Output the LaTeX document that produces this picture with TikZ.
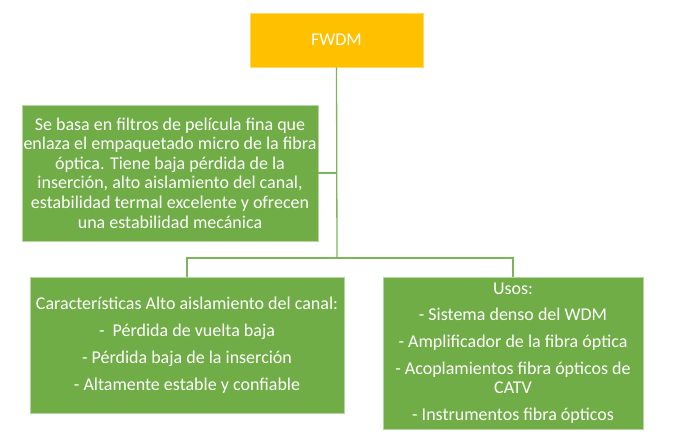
\documentclass[tikz,border=0pt]{standalone}
\usepackage{fontspec}
\setmainfont{Carlito}
\definecolor{gold}{HTML}{FFC000}
\definecolor{leaf}{HTML}{70AD47}
\definecolor{leafline}{HTML}{7DB65A}
\definecolor{leafedge}{HTML}{B5D6A0}
\begin{document}
\begin{tikzpicture}[x=1bp,y=-1bp,
  box/.style={draw=leafedge, line width=0.8bp, fill=leaf, text=white, align=center, inner sep=0pt,
    font=\fontsize{18bp}{19.6bp}\selectfont},
  topbox/.style={draw=gold!60!white, line width=0.8bp, fill=gold, text=white, inner sep=0pt,
    font=\fontsize{18bp}{20bp}\selectfont},
  link/.style={draw=leafline, line width=1.3bp}]
\useasboundingbox (0,0) rectangle (682,448);
\node[topbox, minimum width=173bp, minimum height=54bp] (fwdm) at (336.5,40) {FWDM};
\node[box, minimum width=296bp, minimum height=136bp] (b1) at (170,173)
  {Se basa en filtros de película fina que\\enlaza el empaquetado micro de la fibra\\óptica. Tiene baja pérdida de la\\inserción, alto aislamiento del canal,\\estabilidad termal excelente y ofrecen\\una estabilidad mecánica};
\node[box, minimum width=314bp, minimum height=136bp] (b2) at (187,345)
  {Características Alto aislamiento del canal:\\[7.5bp]-~ Pérdida de vuelta baja\\[7.5bp]- Pérdida baja de la inserción\\[7.5bp]- Altamente estable y confiable};
\node[box, minimum width=260bp, minimum height=152bp] (b3) at (513,353)
  {Usos:\\[7bp]- Sistema denso del WDM\\[7bp]- Amplificador de la fibra óptica\\[7bp]- Acoplamientos fibra ópticos de\\CATV\\[7bp]- Instrumentos fibra ópticos};
\coordinate (j) at (337,258);
\draw[link] (fwdm.south) -- (j);
\draw[link] (b1.east) -- (b1.east -| j);
\draw[link] (b2.north) |- (j) -| (b3.north);
\end{tikzpicture}
\end{document}
